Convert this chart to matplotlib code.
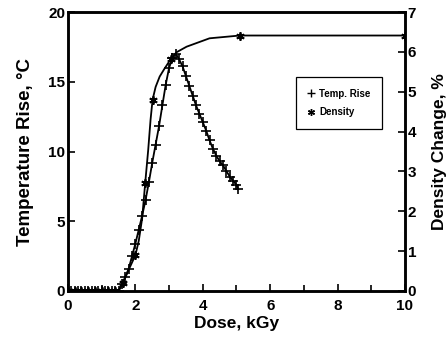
import numpy as np
import matplotlib
matplotlib.use("Agg")
import matplotlib.pyplot as plt
from matplotlib.ticker import MultipleLocator

plt.rcParams['font.family'] = ['Liberation Sans', 'DejaVu Sans']
plt.rcParams['font.weight'] = 'bold'

# Temperature rise (deg C) vs dose (kGy)
temp_dose = [0.0, 0.1, 0.2, 0.3, 0.4, 0.5, 0.6, 0.7, 0.8, 0.9, 1.0, 1.1, 1.2, 1.3, 1.4, 1.5,
             1.6, 1.7, 1.8, 1.9, 2.0, 2.1, 2.2, 2.3, 2.4, 2.5, 2.6, 2.7, 2.8, 2.9, 3.0, 3.1, 3.2,
             3.3, 3.4, 3.5, 3.6, 3.7, 3.8, 3.9, 4.0, 4.1, 4.2, 4.3, 4.4, 4.5, 4.6, 4.7, 4.8, 4.9, 5.0, 5.05]
temp_rise = [0, 0, 0, 0, 0, 0, 0, 0, 0, 0, 0, 0, 0, 0, 0, 0,
             0.5, 1.0, 1.6, 2.5, 3.4, 4.4, 5.4, 6.5, 7.8, 9.2, 10.5, 11.8, 13.3, 14.8, 16.0, 16.7, 17.0,
             16.6, 16.1, 15.4, 14.7, 14.0, 13.3, 12.7, 12.1, 11.5, 10.8, 10.2, 9.7, 9.3, 9.0, 8.6, 8.2, 7.9, 7.6, 7.3]

# Density change (%) vs dose (kGy)
dens_dose = [0.0, 0.2, 0.4, 0.6, 0.8, 1.0, 1.2, 1.4, 1.5, 1.63, 1.8, 2.0, 2.1, 2.2, 2.29, 2.38, 2.45, 2.51,
             2.6, 2.72, 2.85, 3.05, 3.22, 3.52, 4.2, 5.1, 10.0]
dens_change = [0, 0, 0, 0, 0, 0, 0, 0, 0, 0.2, 0.53, 0.9, 1.26, 1.82, 2.7, 3.54, 4.3, 4.8,
               5.12, 5.38, 5.56, 5.82, 5.99, 6.13, 6.34, 6.41, 6.41]
dens_marked = [0, 1, 2, 3, 4, 5, 6, 7, 9, 11, 14, 17, 21, 25, 26]

fig = plt.figure(figsize=(4.47, 3.46), dpi=100)
ax = fig.add_axes([68/447, 55/346, (405-68)/447, (291-12)/346])
ax2 = ax.twinx()

ax.plot(temp_dose, temp_rise, color='black', lw=1.3, marker='+', ms=7, mew=1.2)
ax2.plot(dens_dose, dens_change, color='black', lw=1.3, marker=(6, 2, 0), ms=6, mew=1.3,
         markevery=dens_marked)

ax.set_xlim(0, 10)
ax.set_ylim(0, 20)
ax2.set_ylim(0, 7)

ax.xaxis.set_major_locator(MultipleLocator(2))
ax.xaxis.set_minor_locator(MultipleLocator(1))
ax.yaxis.set_major_locator(MultipleLocator(5))
ax2.yaxis.set_major_locator(MultipleLocator(1))

ax.tick_params(axis='x', which='both', direction='in', top=False, labelsize=11, pad=6)
ax.tick_params(axis='x', which='major', length=5, width=1.2)
ax.tick_params(axis='x', which='minor', length=4, width=1.2)
ax.tick_params(axis='y', direction='in', right=False, length=5, width=1.2, labelsize=11, pad=2)
ax2.tick_params(axis='y', direction='in', length=5, width=1.2, labelsize=11, pad=2)

for a in (ax, ax2):
    for s in a.spines.values():
        s.set_linewidth(1.8)
for lab in ax.get_xticklabels() + ax.get_yticklabels() + ax2.get_yticklabels():
    lab.set_fontweight('bold')

ax.set_xlabel('Dose, kGy', fontsize=12.5, fontweight='bold', labelpad=2)
ax.set_ylabel('Temperature Rise, °C', fontsize=13.5, fontweight='bold', labelpad=10)
ax2.set_ylabel('Density Change, %', fontsize=12.5, fontweight='bold', labelpad=11)

h1 = plt.Line2D([], [], color='black', ls='none', marker='+', ms=6, mew=1.0)
h2 = plt.Line2D([], [], color='black', ls='none', marker=(6, 2, 0), ms=5, mew=1.0)
leg = fig.legend([h1, h2], ['Temp. Rise', 'Density'], loc='upper left',
                 bbox_to_anchor=(296/447, 1 - 77/346), bbox_transform=fig.transFigure,
                 borderaxespad=0, fancybox=False, edgecolor='black', framealpha=1,
                 handlelength=0.6, handletextpad=0.6, borderpad=1.2, labelspacing=0.9,
                 prop={'size': 7, 'weight': 'bold'})
leg.get_frame().set_linewidth(0.9)

fig.savefig('out.png', dpi=100)
